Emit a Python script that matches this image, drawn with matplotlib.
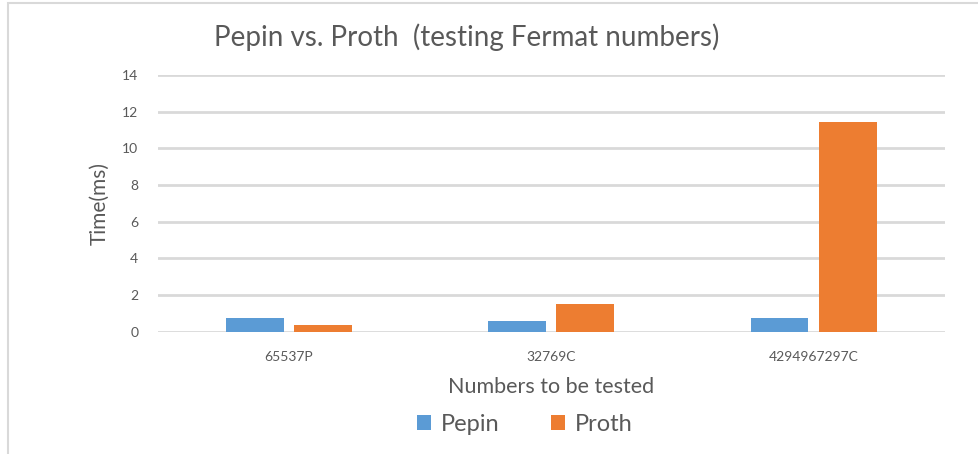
import numpy as np
import matplotlib
matplotlib.use("Agg")
import matplotlib.pyplot as plt
from matplotlib.patches import Rectangle

# data
categories = ["65537P", "32769C", "4294967297C"]
pepin = [0.76, 0.59, 0.76]
proth = [0.36, 1.5, 11.45]

plt.rcParams['font.family'] = ['Lato', 'DejaVu Sans']

fig = plt.figure(figsize=(9.79, 4.54), dpi=100)
ax = fig.add_axes([0.161, 0.269, 0.804, 0.566])

x = np.arange(len(categories))
w = 0.22
ax.bar(x - 0.13, pepin, width=w, color="#5B9BD5", label="Pepin", zorder=3)
ax.bar(x + 0.13, proth, width=w, color="#ED7D31", label="Proth", zorder=3)

ax.set_xlim(-0.5, 2.5)
ax.set_ylim(0, 14)
ax.set_yticks(range(0, 15, 2))
ax.set_xticks(x)
ax.set_xticklabels(categories)
ax.tick_params(length=0, colors="#595959", labelsize=10)
ax.tick_params(axis="y", pad=14)
ax.tick_params(axis="x", pad=14)
ax.grid(axis="y", color="#d9d9d9", linewidth=2, zorder=0)
for s in ax.spines.values():
    s.set_visible(False)

ax.set_ylabel("Time(ms)", color="#595959", fontsize=15, labelpad=9)
ax.set_xlabel("Numbers to be tested", color="#595959", fontsize=15.5, labelpad=10)
fig.text(0.477, 0.918, "Pepin vs. Proth  (testing Fermat numbers)",
         ha="center", va="center", fontsize=20, color="#595959")

fig.legend(loc="center", bbox_to_anchor=(0.536, 0.066), ncol=2, frameon=False,
           fontsize=17, handlelength=0.6, handleheight=0.6, columnspacing=2.2,
           handletextpad=0.4, labelcolor="#595959")

# outer chart frame
fig.patches.append(Rectangle((0.008, -0.02), 1.1, 1.013, transform=fig.transFigure,
                             fill=False, edgecolor="#d9d9d9", linewidth=1.5))

fig.savefig("out.png", dpi=100)
